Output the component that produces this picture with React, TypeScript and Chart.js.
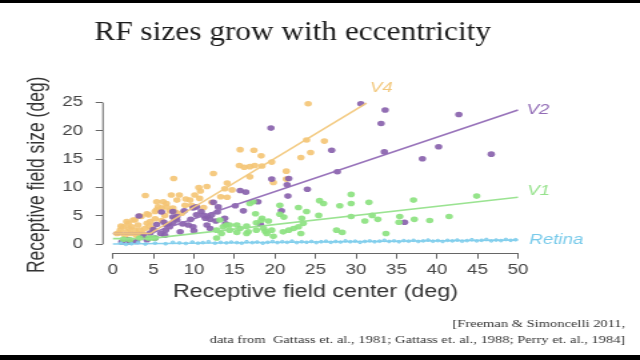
import React, { useEffect, useRef } from "react";
import { Chart, registerables } from "chart.js";

Chart.register(...registerables);

// ---------- data ----------
const xTicks = [0, 5, 10, 15, 20, 25, 30, 35, 40, 45, 50];
const yTicks = [0, 5, 10, 15, 20, 25];

const titleText = "RF sizes grow with eccentricity";
const xLabel = "Receptive field center (deg)";
const yLabel = "Receptive field size (deg)";
const citationLines = [
  "[Freeman & Simoncelli 2011,",
  "data from  Gattass et. al., 1981; Gattass et. al., 1988; Perry et. al., 1984]",
];
const seriesNames = ["V4", "V2", "V1", "Retina"];

const v4Points: [number, number][] = [
  [24.1, 24.8], [23.9, 18.4], [26.1, 18.2], [15.7, 16.7], [17.4, 16.6], [23.2, 15.3],
  [24.4, 16.2], [18.3, 15.6], [19.6, 14.5], [15.6, 13.9], [16.2, 13.6], [16.9, 13.7],
  [17.5, 13.9], [18.4, 13.8], [16.9, 11.9], [21.4, 12.9], [19.8, 10.9], [7.5, 11.6],
  [12.4, 12.5], [14.1, 10.8], [13.8, 9.8], [14.7, 9.6], [21.4, 11.5], [10.6, 10.0],
  [11.6, 10.2], [10.8, 9.4], [4.0, 8.6], [7.2, 8.7], [8.2, 8.7], [10.1, 8.7],
  [7.9, 7.8], [9.5, 7.8], [13.3, 8.4], [14.1, 8.3], [5.4, 7.5], [6.2, 7.5],
  [6.6, 7.2], [8.9, 6.9], [9.7, 6.9], [5.6, 6.6], [6.6, 6.6], [7.4, 6.4],
  [6.0, 6.4], [7.0, 5.9], [5.2, 5.8], [4.4, 5.2], [4.2, 5.4], [3.5, 4.9],
  [3.3, 5.0], [2.7, 4.3], [2.5, 4.3], [1.9, 3.7], [1.7, 4.0], [1.3, 3.1],
  [2.3, 3.1], [3.1, 3.4], [4.2, 3.7], [4.6, 4.0], [3.95, 2.8], [4.8, 2.8],
  [0.9, 2.5], [1.7, 2.2], [2.7, 2.5], [3.3, 2.5], [0.5, 1.9], [1.5, 1.6],
  [3.1, 1.9], [2.9, 1.6], [3.7, 1.9], [5.2, 4.5], [6.4, 5.1], [7.7, 5.7],
  [5.4, 6.1], [10.7, 8.1], [12.2, 7.4], [11.2, 6.5], [8.5, 5.5], [6.0, 4.2],
  [2.0, 2.8], [1.0, 3.2], [0.8, 2.0], [2.2, 1.9], [4.5, 3.2], [9.0, 8.0],
];

const v2Points: [number, number][] = [
  [30.6, 24.8], [33.6, 23.7], [33.1, 21.3], [42.7, 22.9], [19.5, 20.5], [33.5, 16.3],
  [27.0, 16.6], [40.2, 17.2], [38.2, 15.1], [46.7, 15.9], [27.7, 12.8], [19.6, 11.5],
  [21.7, 11.6], [21.5, 10.5], [24.0, 9.7], [21.6, 8.5], [15.7, 9.5], [16.4, 9.2],
  [17.9, 7.5], [15.1, 6.8], [16.1, 5.9], [36.0, 3.9], [18.2, 3.5], [12.4, 7.4],
  [13.0, 6.6], [12.9, 5.7], [12.7, 4.1], [11.6, 4.9], [12.0, 4.4], [11.2, 5.1],
  [10.3, 6.6], [10.3, 5.2], [9.6, 4.4], [9.3, 3.4], [10.0, 2.4], [8.8, 5.9],
  [7.9, 4.3], [7.4, 3.8], [7.0, 3.1], [6.5, 2.5], [5.9, 1.9], [6.0, 5.7],
  [6.3, 3.9], [5.4, 3.5], [6.9, 3.5], [7.4, 4.8], [7.9, 4.9], [3.2, 5.0],
  [1.1, 0.4], [2.1, 0.4], [4.2, 0.8], [13.9, 3.6], [12.0, 2.8], [7.4, 5.8],
  [7.7, 4.6], [6.6, 3.4], [9.9, 6.4], [10.9, 5.8], [11.4, 4.6], [12.2, 5.2],
  [11.6, 3.4], [9.9, 3.1], [8.3, 2.2], [6.4, 1.6], [5.2, 1.1], [2.9, 0.5],
  [1.9, 0.8], [13.8, 4.6], [20.8, 5.9], [5.0, 2.6], [4.6, 2.0], [3.8, 1.4],
  [8.6, 3.6],
];

const v1Points: [number, number][] = [
  [44.9, 8.5], [29.4, 8.8], [25.5, 7.7], [26.0, 7.2], [29.4, 7.2], [28.0, 6.8],
  [31.6, 7.4], [37.1, 7.8], [20.6, 6.9], [22.9, 6.5], [16.9, 7.2], [17.3, 7.5],
  [21.1, 4.8], [20.6, 5.3], [17.6, 5.4], [18.4, 4.6], [19.2, 4.1], [25.4, 5.1],
  [29.4, 4.9], [32.0, 5.1], [35.4, 4.9], [37.2, 4.4], [41.5, 4.9], [39.1, 4.2],
  [35.3, 3.9], [31.1, 4.1], [32.7, 4.4], [23.3, 4.6], [23.9, 5.8], [23.5, 3.7],
  [22.9, 3.1], [22.3, 2.8], [21.7, 2.5], [21.0, 2.2], [23.2, 1.9], [27.6, 2.5],
  [28.3, 2.1], [33.7, 1.9], [13.2, 4.3], [14.0, 3.4], [12.8, 2.5], [13.6, 3.1],
  [14.4, 2.5], [15.3, 3.4], [15.7, 2.8], [16.5, 3.2], [15.3, 2.1], [16.5, 1.9],
  [17.7, 2.5], [18.6, 2.8], [19.0, 1.9], [19.6, 2.5], [18.8, 2.3], [16.7, 2.2],
  [17.7, 3.8], [18.3, 4.2], [12.8, 1.1], [13.4, 1.9], [14.4, 3.4], [3.3, 1.1],
  [2.1, 0.8], [1.3, 0.9], [4.4, 1.1], [5.2, 1.1], [4.8, 1.1], [19.8, 1.4],
];

const retinaEcc = [
  1.0, 1.6, 2.3, 3.1, 4.0, 5.2, 6.5, 7.4, 8.2, 9.0, 9.8, 10.5, 11.1, 11.8, 12.6, 13.3,
  14.0, 14.6, 15.3, 15.9, 16.5, 17.2, 17.8, 18.5, 19.1, 19.7, 20.3, 20.9, 21.5, 22.1,
  22.7, 23.3, 23.9, 24.5, 25.1, 25.7, 26.3, 26.9, 27.5, 28.1, 28.7, 29.3, 29.9, 30.5,
  31.1, 31.7, 32.3, 32.9, 33.5, 34.1, 34.7, 35.3, 35.9, 36.5, 37.1, 37.7, 38.3, 38.9,
  39.5, 40.1, 40.7, 41.3, 41.9, 42.5, 43.1, 43.7, 44.3, 44.9, 45.5, 46.1, 46.7, 47.3,
  47.9, 48.5, 49.1, 49.7,
];
const retinaSize = [
  0.2, 0.0, 0.1, 0.3, 0.05, 0.2, 0.1, 0.35, 0.25, 0.15, 0.4, 0.2, 0.3, 0.45, 0.2, 0.35,
  0.25, 0.4, 0.3, 0.2, 0.45, 0.3, 0.4, 0.2, 0.35, 0.5, 0.3, 0.45, 0.35, 0.55,
  0.3, 0.45, 0.35, 0.5, 0.3, 0.45, 0.55, 0.35, 0.5, 0.4, 0.6, 0.45, 0.55, 0.35,
  0.5, 0.6, 0.45, 0.55, 0.7, 0.5, 0.6, 0.45, 0.65, 0.55, 0.7, 0.5, 0.6, 0.75,
  0.55, 0.65, 0.5, 0.7, 0.6, 0.75, 0.55, 0.65, 0.8, 0.6, 0.7, 0.85, 0.6, 0.75,
  0.65, 0.85, 0.7, 0.8,
];

// fitted lines (piecewise: flat then linear)
const v4Fit: [number, number][] = [[0, 1.9], [4.6, 1.9], [31.3, 24.9]];
const v2Fit: [number, number][] = [[0, 1.9], [4.6, 1.9], [50, 23.7]];
const v1Fit: [number, number][] = [[0, 1.0], [4.5, 1.0], [50, 8.3]];
const retinaFit: [number, number][] = [[0, 0.05], [50, 0.75]];

// ---------- styles ----------
const SANS = "'Liberation Sans', Arial, Helvetica, sans-serif";
const SERIF = "'Liberation Serif', 'Times New Roman', serif";
const C_V4 = "rgba(244, 198, 118, 0.92)";
const C_V2 = "rgba(137, 98, 172, 0.92)";
const C_V1 = "rgba(140, 226, 128, 0.92)";
const C_RET = "rgba(120, 202, 234, 0.95)";
const L_V4 = "rgba(242, 200, 125, 0.95)";
const L_V2 = "rgba(146, 108, 182, 0.95)";
const L_V1 = "rgba(150, 226, 140, 0.95)";
const L_RET = "rgba(128, 206, 236, 0.95)";
const AXIS = "#666";

const toXY = (pts: [number, number][]) => pts.map(([x, y]) => ({ x, y }));

const overlayPlugin = {
  id: "overlay",
  afterDraw(chart: any) {
    const { ctx, scales } = chart;
    const xs = scales.x;
    const ys = scales.y;
    const area = chart.chartArea;
    ctx.save();

    // R-style axis lines spanning first..last tick
    ctx.strokeStyle = AXIS;
    ctx.lineWidth = 1;
    ctx.beginPath();
    ctx.moveTo(xs.getPixelForValue(xTicks[0]), Math.round(area.bottom) + 0.5);
    ctx.lineTo(xs.getPixelForValue(xTicks[xTicks.length - 1]), Math.round(area.bottom) + 0.5);
    ctx.moveTo(area.left, ys.getPixelForValue(yTicks[0]));
    ctx.lineTo(area.left, ys.getPixelForValue(yTicks[yTicks.length - 1]));
    ctx.stroke();

    // series labels next to fitted lines
    ctx.font = `italic 14px ${SANS}`;
    ctx.textBaseline = "middle";
    ctx.textAlign = "left";
    const lab = (name: string, fit: [number, number][], dx: number, dy: number, color: string) => {
      const end = fit[fit.length - 1];
      ctx.fillStyle = color;
      ctx.fillText(name, xs.getPixelForValue(end[0]) + dx, ys.getPixelForValue(end[1]) + dy);
    };
    lab(seriesNames[0], v4Fit, 2.5, -15.5, "rgb(242, 200, 125)");
    lab(seriesNames[1], v2Fit, 6.5, 0.5, "rgb(146, 108, 182)");
    lab(seriesNames[2], v1Fit, 7, -6, "rgb(150, 226, 140)");
    lab(seriesNames[3], retinaFit, 8.5, 0, "rgb(120, 202, 234)");

    // title (serif, slightly condensed)
    ctx.fillStyle = "#1c1c1c";
    ctx.font = `27px ${SERIF}`;
    ctx.textAlign = "center";
    ctx.textBaseline = "alphabetic";
    ctx.save();
    ctx.translate(219.5, 40);
    ctx.scale(0.87, 1);
    ctx.fillText(titleText, 0, 0);
    ctx.restore();

    // citation
    ctx.fillStyle = "#333";
    ctx.font = `10.9px ${SERIF}`;
    ctx.textAlign = "right";
    ctx.fillText(citationLines[0], 469, 327);
    ctx.fillText(citationLines[1], 469, 343);

    // letterbox bars
    ctx.fillStyle = "#000";
    ctx.fillRect(0, 0, chart.width, 3);
    ctx.fillRect(0, 355, chart.width, 5);
    ctx.restore();
  },
};

export default function App() {
  const canvasRef = useRef<HTMLCanvasElement | null>(null);

  useEffect(() => {
    const canvas = canvasRef.current;
    if (!canvas) return;
    const dotDs = (label: string, pts: [number, number][], color: string, order: number) => ({
      type: "scatter" as const,
      label,
      data: toXY(pts),
      backgroundColor: color,
      borderWidth: 0,
      pointRadius: 2.8,
      pointHoverRadius: 2.8,
      order,
    });
    const lineDs = (label: string, pts: [number, number][], color: string) => ({
      type: "scatter" as const,
      label,
      data: toXY(pts),
      showLine: true,
      borderColor: color,
      borderWidth: 1.6,
      pointRadius: 0,
      pointHoverRadius: 0,
      order: 0,
    });

    const chart = new Chart(canvas, {
      type: "scatter",
      data: {
        datasets: [
          lineDs("V4 fit", v4Fit, L_V4),
          lineDs("V2 fit", v2Fit, L_V2),
          lineDs("V1 fit", v1Fit, L_V1),
          lineDs("Retina fit", retinaFit, L_RET),
          {
            type: "scatter",
            label: "Retina",
            data: retinaEcc.map((x, i) => ({ x, y: retinaSize[i] })),
            backgroundColor: "rgba(150, 214, 240, 0.9)",
            borderColor: C_RET,
            borderWidth: 0.8,
            pointRadius: 1.4,
            pointHoverRadius: 1.4,
            order: 1,
          },
          dotDs("V1", v1Points, C_V1, 2),
          dotDs("V2", v2Points, C_V2, 3),
          dotDs("V4", v4Points, C_V4, 4),
        ] as any,
      },
      options: {
        responsive: false,
        animation: false,
        devicePixelRatio: 1,
        events: [],
        layout: { padding: { top: 96.9, right: 84, left: 0, bottom: 0 } },
        plugins: {
          legend: { display: false },
          tooltip: { enabled: false },
          title: { display: false },
        },
        scales: {
          x: {
            type: "linear",
            min: -1.23,
            max: 51.23,
            afterBuildTicks: (s: any) => {
              s.ticks = xTicks.map((v) => ({ value: v }));
            },
            afterFit: (s: any) => {
              s.height = 107.3;
            },
            grid: {
              display: true,
              drawOnChartArea: false,
              drawTicks: true,
              tickLength: 6,
              tickColor: AXIS,
              color: AXIS,
              tickWidth: 1,
            },
            border: { display: false },
            ticks: {
              autoSkip: false,
              maxRotation: 0,
              padding: 3,
              color: "#444",
              font: { family: SANS, size: 14 },
            },
            title: {
              display: true,
              text: xLabel,
              color: "#333",
              font: { family: SANS, size: 17.5 },
              padding: { top: 0, bottom: 57.5 },
            },
          },
          y: {
            type: "linear",
            min: -1.48,
            max: 26,
            afterBuildTicks: (s: any) => {
              s.ticks = yTicks.map((v) => ({ value: v }));
            },
            afterFit: (s: any) => {
              s.width = 77.25;
            },
            grid: {
              display: true,
              drawOnChartArea: false,
              drawTicks: true,
              tickLength: 5.5,
              tickColor: AXIS,
              color: AXIS,
              tickWidth: 1,
            },
            border: { display: false },
            ticks: {
              autoSkip: false,
              padding: 9.5,
              color: "#444",
              font: { family: SANS, size: 14 },
            },
            title: {
              display: true,
              text: yLabel,
              color: "#333",
              font: { family: SANS, size: 17.5 },
              padding: { top: 17.25, bottom: 0 },
            },
          },
        },
      } as any,
      plugins: [overlayPlugin],
    });
    return () => chart.destroy();
  }, []);

  return (
    <div style={{ position: "fixed", left: 0, top: 0, width: 640, height: 360, background: "#fff" }}>
      <canvas
        ref={canvasRef}
        width={480}
        height={360}
        style={{ width: "640px", height: "360px", display: "block" }}
      />
    </div>
  );
}
